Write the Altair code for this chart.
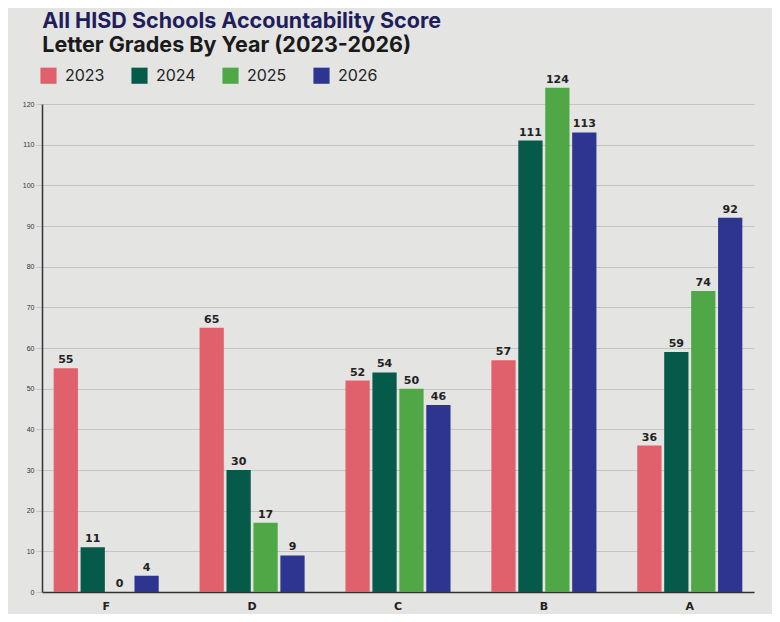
import altair as alt
import pandas as pd

grades = ["F", "D", "C", "B", "A"]
years = ["2023", "2024", "2025", "2026"]
v2023 = [55, 65, 52, 57, 36]
v2024 = [11, 30, 54, 111, 59]
v2025 = [0, 17, 50, 124, 74]
v2026 = [4, 9, 46, 113, 92]
colors = ["#e0606c", "#055a4a", "#4fa845", "#2d3590"]

rows = []
for yr, vals in zip(years, [v2023, v2024, v2025, v2026]):
    for g, v in zip(grades, vals):
        rows.append({"grade": g, "year": yr, "count": v})
df = pd.DataFrame(rows)

x = alt.X("grade:N", sort=grades, title=None,
          scale=alt.Scale(paddingInner=0.28, paddingOuter=0.08),
          axis=alt.Axis(labelAngle=0, labelFontWeight="bold", labelFontSize=11,
                        labelColor="#222", labelPadding=8, ticks=False,
                        domainColor="#333", domainWidth=1.5, labelFont="DejaVu Sans"))
xo = alt.XOffset("year:N", sort=years, scale=alt.Scale(paddingInner=0.1))
y = alt.Y("count:Q", title=None,
          scale=alt.Scale(domain=[0, 120], nice=False, clamp=False),
          axis=alt.Axis(values=list(range(0, 121, 10)), labelFontSize=7, labelColor="#333",
                        gridColor="#c4c4c4", gridWidth=1, domainColor="#333", domainWidth=1.5,
                        tickColor="#c4c4c4", tickSize=6, labelPadding=2))

color = alt.Color("year:N", sort=years, scale=alt.Scale(domain=years, range=colors),
                  legend=alt.Legend(title=None, orient="none", legendX=-2, legendY=-37,
                                    direction="horizontal", symbolType="square",
                                    symbolSize=260, symbolStrokeWidth=0, symbolOpacity=1,
                                    labelFontSize=16, labelColor="#222", columnPadding=26,
                                    labelOffset=8, labelFont="Inter"))

base = alt.Chart(df).encode(x=x, xOffset=xo, y=y)
bars = base.mark_bar(cornerRadius=0).encode(color=color)
labels = base.mark_text(dy=-8, fontWeight="bold", fontSize=11, color="#222",
                        font="DejaVu Sans").encode(text="count:Q")

chart = (bars + labels).properties(
    width=712, height=488,
    title=alt.TitleParams(
        text="All HISD Schools Accountability Score",
        subtitle="Letter Grades By Year (2023-2026)",
        anchor="start", font="Inter", fontSize=21.5, fontWeight="bold", color="#1f1d5c",
        subtitleFont="Inter", subtitleFontSize=21.5, subtitleFontWeight="bold",
        subtitleColor="#1a1a1a", subtitlePadding=2, offset=11, dx=20),
    autosize=alt.AutoSizeParams(type="none"),
    padding={"left": 34, "top": 96, "right": 18, "bottom": 22},
    background="#e4e4e2",
).configure_view(stroke=None)

chart.save("out.html", embed_options={"renderer": "svg", "actions": False})
